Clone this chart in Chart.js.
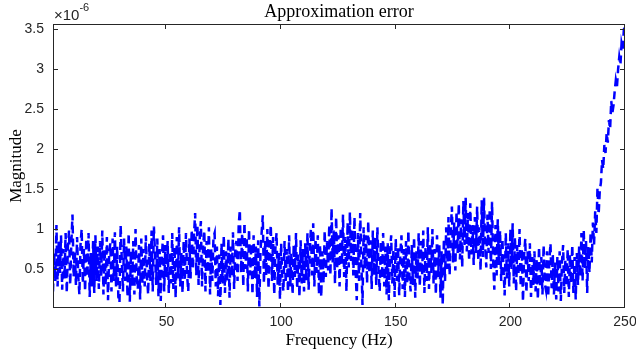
<!DOCTYPE html>
<html><head><meta charset="utf-8">
<script src="https://cdn.jsdelivr.net/npm/chart.js@4/dist/chart.umd.min.js"></script>
<style>html,body{margin:0;padding:0;background:#fff}#wrap{width:636px;height:358px}</style>
</head><body><div id="wrap"><canvas id="c" width="636" height="358"></canvas></div>
<script>
// Frequency grid step (Hz); magnitudes in units of 1e-6
const freqStep = 0.5;
const magnitude = [
0.22,0.70,0.35,1.05,0.28,0.85,0.45,0.92,0.24,0.75,0.38,0.95,0.20,0.78,0.98,0.30,0.82,1.18,0.40,0.72,
0.30,0.90,0.42,0.18,0.80,1.00,0.32,0.75,0.22,0.88,0.40,0.95,0.15,0.70,0.28,0.85,0.20,0.92,0.35,0.78,
0.25,0.85,0.40,0.98,0.18,0.75,0.30,0.90,0.11,0.70,0.82,0.22,0.88,0.35,0.96,0.28,0.78,0.15,0.08,1.05,
0.62,0.22,0.88,0.35,0.78,0.15,0.95,0.09,0.72,0.28,0.85,0.18,1.00,0.40,0.25,0.80,0.12,0.88,0.32,0.75,
0.28,0.92,0.42,0.18,0.82,0.35,0.98,0.22,1.03,0.70,0.30,0.88,0.16,0.75,0.10,0.65,0.92,0.22,0.80,0.38,
0.85,0.20,0.72,0.32,0.95,0.25,0.78,0.14,0.90,0.38,1.02,0.28,0.70,0.20,0.85,0.35,0.95,0.42,0.22,0.88,
0.38,0.99,0.50,0.92,1.20,0.42,1.05,0.30,0.88,1.10,0.28,0.80,0.98,0.22,0.85,0.45,1.02,0.18,0.75,0.35,
0.90,0.95,0.28,0.78,0.16,0.68,0.05,0.82,0.32,0.92,0.20,0.72,0.35,0.88,0.14,0.78,0.40,0.96,0.25,0.72,
0.85,0.35,1.05,1.24,0.45,0.95,0.28,1.08,0.50,0.90,0.22,1.00,0.42,0.82,0.18,0.92,0.38,0.78,0.15,0.86,
0.03,0.72,0.95,1.17,0.32,0.85,0.42,1.00,0.25,0.78,1.05,0.35,0.90,0.18,0.75,0.95,0.30,0.70,0.12,0.82,
0.38,0.22,0.85,0.32,0.75,0.21,0.92,0.28,0.70,0.18,0.80,0.40,0.95,0.25,0.68,0.15,0.86,0.32,0.75,0.22,
0.82,0.35,0.95,0.24,0.75,1.00,0.42,1.07,0.28,0.88,0.45,0.92,0.18,0.80,0.15,0.72,0.32,0.98,0.40,0.85,
0.48,1.05,0.42,1.26,0.58,0.98,0.32,1.15,0.50,0.92,0.28,1.02,0.55,1.18,0.40,0.90,0.22,1.08,0.52,1.21,
0.60,1.00,0.42,1.15,0.48,0.11,0.95,0.35,1.20,0.58,0.05,1.02,0.50,0.92,0.32,1.10,0.45,0.86,0.25,0.98,
0.42,0.90,0.30,1.02,0.48,0.22,0.85,0.38,0.95,0.28,0.78,0.18,0.82,0.11,0.70,0.92,0.32,0.75,0.15,0.88,
0.35,0.78,0.17,0.70,0.92,0.25,0.75,0.15,0.85,0.32,0.98,0.40,0.22,0.80,0.30,0.90,0.14,0.72,0.38,0.95,
0.28,0.85,0.42,0.98,0.20,0.78,0.35,1.02,0.25,0.82,0.45,1.00,0.32,0.75,0.18,0.92,0.40,0.80,0.14,0.72,
0.05,0.88,0.35,1.02,0.50,1.15,0.42,0.98,1.28,0.58,1.08,0.48,1.22,0.70,1.32,0.62,1.12,0.52,1.35,0.80,
1.39,0.72,1.20,0.60,1.32,0.68,1.05,0.55,1.15,0.70,1.28,0.60,1.02,0.48,1.36,0.65,1.39,0.78,0.52,1.18,
0.70,1.25,0.50,1.34,0.60,0.24,1.05,0.42,1.12,0.55,0.98,0.35,0.88,0.50,0.17,0.95,0.38,0.82,0.28,1.00,
0.50,1.07,0.32,0.90,0.22,0.80,0.42,1.00,0.28,0.75,0.09,0.68,0.88,0.20,0.72,0.35,0.82,0.15,0.65,0.30,
0.72,0.22,0.62,0.12,0.78,0.28,0.65,0.18,0.80,0.32,0.24,0.72,0.15,0.60,0.82,0.26,0.68,0.18,0.58,0.12,
0.65,0.22,0.72,0.10,0.58,0.80,0.20,0.62,0.28,0.75,0.15,0.68,0.32,0.80,0.20,0.65,0.12,0.70,0.30,0.78,
0.40,0.95,0.35,0.99,0.50,0.85,0.20,0.78,0.45,0.96,0.58,1.08,0.80,1.22,0.95,1.52,1.18,1.48,1.58,1.86,
1.75,2.05,1.95,2.20,2.08,2.36,2.25,2.60,2.45,2.55,2.72,2.86,2.78,3.00,3.15,3.05,3.32,3.25,3.49,3.55
];
const xTicks = [50, 100, 150, 200, 250];
const yTicks = [0.5, 1, 1.5, 2, 2.5, 3, 3.5];
const titleText = 'Approximation error';
const xLabel = 'Frequency (Hz)';
const yLabel = 'Magnitude';
const expText = '\u00d710';
const expSup = '-6';

const freq = magnitude.map((_, i) => (i + 1) * freqStep);
const points = freq.map((f, i) => ({x: f, y: magnitude[i]}));

const AX = '#262626';
const sans = 'Liberation Sans, Arial, sans-serif';
const tickFont = {family: sans, size: 14};
const serif = 'Liberation Serif, Times New Roman, serif';

const boxPlugin = {
  id: 'box',
  afterDraw(chart) {
    const {ctx, chartArea: a, scales} = chart;
    ctx.save();
    ctx.strokeStyle = AX;
    ctx.lineWidth = 1;
    ctx.strokeRect(Math.round(a.left) + 0.5, Math.round(a.top) + 0.5,
                   Math.round(a.right - a.left) - 1, Math.round(a.bottom - a.top) - 1);
    const L = 5;
    ctx.beginPath();
    scales.x.ticks.forEach(t => {
      const px = Math.round(scales.x.getPixelForValue(t.value)) - 0.5;
      ctx.moveTo(px, a.bottom); ctx.lineTo(px, a.bottom - L);
      ctx.moveTo(px, a.top); ctx.lineTo(px, a.top + L);
    });
    scales.y.ticks.forEach(t => {
      const py = Math.round(scales.y.getPixelForValue(t.value)) + 0.5;
      ctx.moveTo(a.left, py); ctx.lineTo(a.left + L, py);
      ctx.moveTo(a.right, py); ctx.lineTo(a.right - L, py);
    });
    ctx.stroke();
    // title
    ctx.fillStyle = '#000';
    ctx.font = '18px ' + serif;
    ctx.textAlign = 'center';
    ctx.textBaseline = 'alphabetic';
    ctx.fillText(titleText, (a.left + a.right) / 2, 17);
    // exponent
    ctx.fillStyle = AX;
    ctx.textAlign = 'left';
    ctx.font = '15px ' + sans;
    ctx.fillText(expText, a.left + 1, 20);
    const w = ctx.measureText(expText).width;
    ctx.font = '11px ' + sans;
    ctx.fillText(expSup, a.left + 1 + w, 11);
    ctx.restore();
  }
};

new Chart(document.getElementById('c'), {
  type: 'line',
  data: {datasets: [{
    data: points,
    borderColor: '#0000ff',
    borderWidth: 2.5,
    borderDash: [8, 5],
    pointRadius: 0,
    tension: 0,
    fill: false
  }]},
  options: {
    responsive: false,
    animation: false,
    devicePixelRatio: 1,
    parsing: false,
    layout: {padding: {top: 24, right: 11, left: 0, bottom: 0}},
    plugins: {legend: {display: false}, tooltip: {enabled: false}, title: {display: false}},
    scales: {
      x: {
        type: 'linear', min: 0.5, max: 250,
        afterBuildTicks: s => { s.ticks = xTicks.map(v => ({value: v})); },
        afterFit: s => { s.height = 50; s.paddingLeft = 0; s.paddingRight = 0; },
        grid: {display: false, drawTicks: false},
        border: {display: false},
        ticks: {font: tickFont, color: AX, padding: 6, maxRotation: 0, autoSkip: false, callback: v => String(v)},
        title: {display: true, text: xLabel, color: '#000', font: {family: serif, size: 17}, padding: {top: 0, bottom: 7}}
      },
      y: {
        type: 'linear', min: 0.012, max: 3.5625,
        afterBuildTicks: s => { s.ticks = yTicks.map(v => ({value: v})); },
        afterFit: s => { s.width = 53; s.paddingTop = 0; s.paddingBottom = 0; },
        grid: {display: false, drawTicks: false},
        border: {display: false},
        ticks: {font: tickFont, color: AX, padding: 9, autoSkip: false, callback: v => String(v)},
        title: {display: true, text: yLabel, color: '#000', font: {family: serif, size: 17}, padding: {top: 6, bottom: 0}}
      }
    }
  },
  plugins: [boxPlugin]
});
</script></body></html>
